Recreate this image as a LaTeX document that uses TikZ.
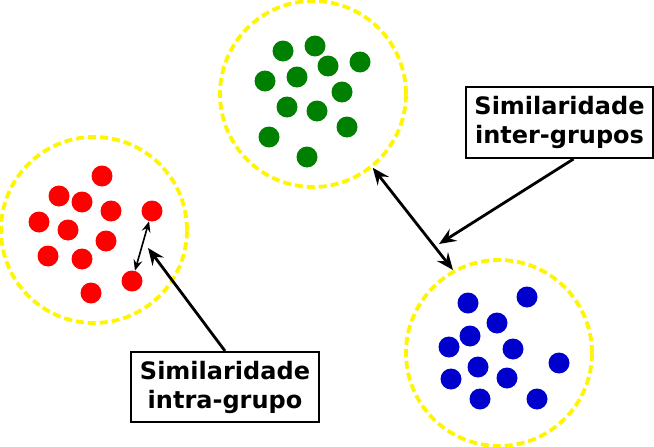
\documentclass[tikz,border=0pt]{standalone}
\usepackage{fontspec}
\setmainfont{DejaVu Sans}
\usetikzlibrary{arrows.meta}
\definecolor{amarelo}{RGB}{255,245,0}
\definecolor{vermelho}{RGB}{255,0,0}
\definecolor{verde}{RGB}{0,128,0}
\definecolor{azul}{RGB}{0,0,204}
\begin{document}
\begin{tikzpicture}[x=1pt,y=-1pt,>={Stealth[length=17pt,width=14pt,inset=6pt]},
  grupo/.style={circle,draw=amarelo,line width=3.8pt,dash pattern=on 8pt off 4pt,minimum size=186pt,inner sep=0pt},
  ponto/.style={circle,inner sep=0pt,minimum width=20pt,minimum height=21pt},
  rotulo/.style={draw,line width=2pt,fill=white,align=center,inner sep=0pt,
    font=\fontsize{24}{29}\selectfont\bfseries}]
\useasboundingbox (0,0) rectangle (654,447);
% grupos
\node[grupo] (gVermelho) at (94,230) {};
\node[grupo] (gVerde) at (313,94) {};
\node[grupo] (gAzul) at (499,353) {};
\foreach \n/\x/\y in {1/102/176,2/59/196,3/82/202,4/111/211,5/152/211,6/39/222,
  7/68/230,8/106/241,9/48/256,10/82/259,11/132/281,12/91/293}
  \node[ponto,fill=vermelho] (r\n) at (\x,\y) {};
\foreach \n/\x/\y in {1/283/51,2/315/46,3/328/66,4/360/62,5/265/81,6/297/77,
  7/342/92,8/287/107,9/317/111,10/347/127,11/269/137,12/307/157}
  \node[ponto,fill=verde] (g\n) at (\x,\y) {};
\foreach \n/\x/\y in {1/468/303,2/527/297,3/497/323,4/470/336,5/449/347,6/513/349,
  7/478/367,8/559/363,9/451/379,10/507/378,11/480/399,12/537/399}
  \node[ponto,fill=azul] (b\n) at (\x,\y) {};
% rotulos
\node[rotulo,minimum width=188pt,minimum height=70pt] (intra) at (225,387) {Similaridade\\intra-grupo};
\node[rotulo,minimum width=187pt,minimum height=71pt] (inter) at (559.5,122.5) {Similaridade\\inter-grupos};
\coordinate (pIntra) at (148,248);
\coordinate (pInter) at (439,244);
% setas
\draw[<->,line width=1.6pt,>={Stealth[length=11pt,width=9pt,inset=4pt]}] (r5) -- (r11);
\draw[<->,line width=2.8pt] (gVerde.-51) -- (gAzul.119);
\draw[->,line width=2.8pt] (intra.north) -- (pIntra);
\draw[->,line width=2.8pt] (inter.-69) -- (pInter);
\end{tikzpicture}
\end{document}
